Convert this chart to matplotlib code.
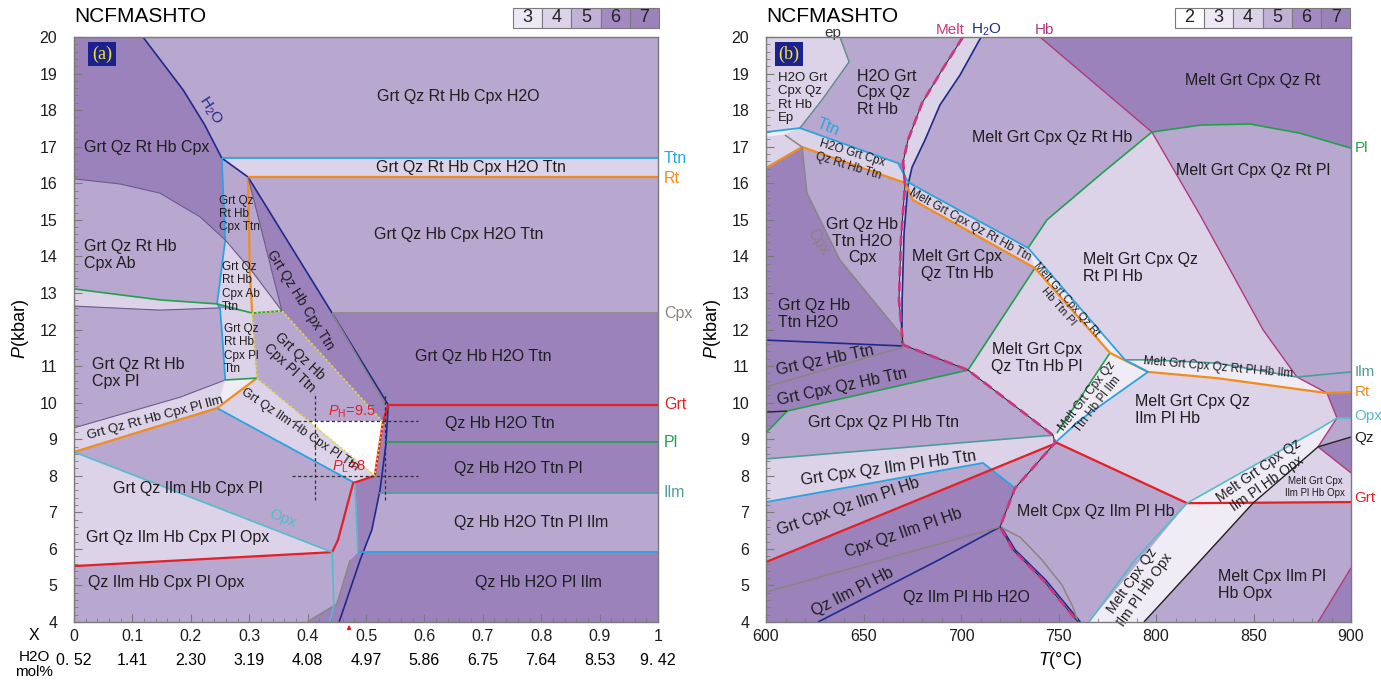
import matplotlib
matplotlib.use("Agg")
import matplotlib.pyplot as plt
import matplotlib.transforms as mtransforms
from matplotlib.patches import Polygon, Rectangle
from matplotlib.ticker import MultipleLocator

plt.rcParams.update({
    "font.family": ["Liberation Sans", "DejaVu Sans"],
    "mathtext.fontset": "custom",
    "mathtext.rm": "Liberation Sans",
    "mathtext.it": "Liberation Sans:italic",
    "font.size": 11.5,
})

# ---------------------------------------------------------------------------
# shading by field variance
# ---------------------------------------------------------------------------
SHADE = {"dark": "#9b82ba", "mid": "#b8a7ce", "light": "#dcd3e8", "pale": "#f0ecf5"}
VARIANCE_A = [3, 4, 5, 6, 7]
VARIANCE_B = [2, 3, 4, 5, 6, 7]
VARIANCE_COLOR = {2: "#ffffff", 3: "#ede8f4", 4: "#dcd3e8", 5: "#c1b1d7",
                  6: "#a38ac3", 7: "#9b82ba"}

PHASE_STYLE = {
    "H2O": ("#1f2a8c", 1.2), "Ttn": ("#29a4e2", 1.3), "Rt": ("#f28c1c", 1.6),
    "Cpx": ("#8a8580", 1.1), "Grt": ("#e61e25", 1.6), "Pl": ("#22a04e", 1.2),
    "Ilm": ("#4f9c9a", 1.2), "Opx": ("#55bccb", 1.2), "Ab": ("#6a5a8c", 0.8),
    "Qz": ("#222222", 1.0), "Hb": ("#b2387c", 1.0), "Ep": ("#5e8c8c", 1.0),
}
MELT_COLOR = "#c8377f"

# ---------------------------------------------------------------------------
# (a) P-X section, X = 0..1 (H2O 0.52..9.42 mol%)
# ---------------------------------------------------------------------------
X_TICKS = [0, 0.1, 0.2, 0.3, 0.4, 0.5, 0.6, 0.7, 0.8, 0.9, 1]
X_TICKLABELS = ["0", "0.1", "0.2", "0.3", "0.4", "0.5", "0.6", "0.7", "0.8", "0.9", "1"]
H2O_MOL = ["0. 52", "1.41", "2.30", "3.19", "4.08", "4.97", "5.86", "6.75", "7.64", "8.53", "9. 42"]
X_SAMPLE = 0.471

P_HIGH = 9.5
P_LOW = 8.0
CROSS_X = [0.413, 0.533]

A_FIELDS = [
    ("Grt Qz Rt Hb Cpx H2O", "mid", [(0.118, 20), (1, 20), (1, 16.69), (0.253, 16.69), (0.224, 17.59), (0.187, 18.55)]),
    ("Grt Qz Rt Hb Cpx H2O Ttn", "light", [(0.253, 16.69), (1, 16.69), (1, 16.17), (0.298, 16.17)]),
    ("Grt Qz Hb Cpx H2O Ttn", "mid", [(0.298, 16.17), (1, 16.17), (1, 12.45), (0.442, 12.45)]),
    ("Grt Qz Rt Hb Cpx Ab", "mid", [(0, 16.12), (0.079, 15.98), (0.147, 15.73), (0.216, 15.08), (0.259, 14.45),
                                    (0.245, 12.70), (0.147, 12.81), (0, 13.11)]),
    ("Grt Qz Rt Hb Cpx Ab Pl", "light", [(0, 13.11), (0.147, 12.81), (0.245, 12.70), (0.250, 12.59), (0.147, 12.53), (0, 12.64)]),
    ("Grt Qz Rt Hb Cpx Pl", "mid", [(0, 12.64), (0.147, 12.53), (0.250, 12.59), (0.255, 11.58), (0.259, 10.62),
                                    (0.182, 10.15), (0, 9.31)]),
    ("Grt Qz Rt Hb Cpx Pl Ilm", "light", [(0, 9.31), (0.182, 10.15), (0.259, 10.62), (0.245, 9.85), (0, 8.65)]),
    ("Grt Qz Rt Hb Cpx Pl Ilm Ttn", "pale", [(0.259, 10.62), (0.313, 10.67), (0.245, 9.85)]),
    ("Grt Qz Rt Hb Cpx Ttn", "mid", [(0.253, 16.69), (0.298, 16.17), (0.301, 13.63), (0.259, 14.45)]),
    ("Grt Qz Rt Hb Cpx Ab Ttn", "light", [(0.259, 14.45), (0.301, 13.63), (0.305, 12.45), (0.245, 12.70)]),
    ("Grt Qz Hb Cpx Ab Ttn", "mid", [(0.298, 16.17), (0.356, 12.51), (0.301, 13.63)]),
    ("Grt Qz Hb Cpx Pl Ab Ttn", "light", [(0.301, 13.63), (0.356, 12.51), (0.305, 12.45)]),
    ("Grt Qz Rt Hb Cpx Pl Ttn", "light", [(0.250, 12.59), (0.305, 12.45), (0.313, 10.67), (0.259, 10.62), (0.255, 11.58)]),
    ("Grt Qz Ilm Hb Cpx Pl Ttn", "light", [(0.245, 9.85), (0.313, 10.67), (0.515, 8.0), (0.481, 7.80)]),
    ("Grt Qz Ilm Hb Cpx Pl", "mid", [(0, 8.65), (0.245, 9.85), (0.481, 7.80), (0.478, 7.80), (0.452, 6.24), (0.442, 5.91)]),
    ("Grt Qz Ilm Hb Cpx Pl Opx", "light", [(0, 8.65), (0.442, 5.91), (0, 5.53)]),
    ("Qz Ilm Hb Cpx Pl Opx", "mid", [(0, 5.53), (0.442, 5.91), (0.445, 4.46), (0.399, 4.0), (0, 4.0)]),
    ("Qz Ilm Hb Cpx Pl", "mid", [(0.478, 7.80), (0.481, 7.80), (0.486, 5.91), (0.473, 5.70), (0.450, 4.49),
                                 (0.445, 4.46), (0.442, 5.91), (0.452, 6.24)]),
    ("Qz Hb H2O Ttn Pl Ilm", "mid", [(0.523, 7.53), (1, 7.53), (1, 5.91), (0.495, 5.91), (0.510, 6.52)]),
]
# peak assemblage Grt Qz Hb Cpx Pl Ttn
PEAK_FIELD = [(0.305, 12.45), (0.356, 12.51), (0.529, 9.47), (0.515, 8.0), (0.313, 10.67)]

A_LINES = [
    ("H2O", [(0.118, 20), (0.187, 18.55), (0.224, 17.59), (0.253, 16.69), (0.298, 16.17), (0.442, 12.45),
             (0.538, 9.94), (0.534, 8.84), (0.524, 7.61), (0.510, 6.52), (0.490, 5.70), (0.454, 4.0)]),
    ("Ttn", [(0.253, 16.69), (1, 16.69)]),
    ("Ttn", [(0.253, 16.69), (0.259, 14.45), (0.245, 12.70), (0.250, 12.59), (0.255, 11.58), (0.259, 10.62)]),
    ("Ttn", [(0.245, 9.85), (0.481, 7.80)]),
    ("Ttn", [(0.486, 5.91), (1, 5.91)]),
    ("Rt", [(0.298, 16.17), (1, 16.17)]),
    ("Rt", [(0.298, 16.17), (0.301, 13.63), (0.305, 12.45)]),
    ("Rt", [(0.313, 10.67), (0.245, 9.85), (0, 8.65)]),
    ("Cpx", [(0.442, 12.45), (1, 12.45)]),
    ("Cpx", [(0.442, 12.45), (0.533, 9.94)]),
    ("Cpx", [(0.473, 5.70), (0.450, 4.49), (0.399, 4.0)]),
    ("Grt", [(0.538, 9.94), (1, 9.94)]),
    ("Grt", [(0, 5.53), (0.442, 5.91), (0.452, 6.24), (0.478, 7.80), (0.515, 8.0), (0.529, 9.47), (0.538, 9.94)]),
    ("Pl", [(0.534, 8.92), (1, 8.92)]),
    ("Pl", [(0, 13.11), (0.147, 12.81), (0.245, 12.70), (0.305, 12.45), (0.356, 12.51)]),
    ("Pl", [(0.259, 10.62), (0.313, 10.67)]),
    ("Ilm", [(0.523, 7.53), (1, 7.53)]),
    ("Opx", [(0, 8.65), (0.442, 5.91), (0.445, 4.46), (0.438, 4.0)]),
    ("Opx", [(0.481, 7.80), (0.486, 5.91)]),
    ("Ab", [(0, 16.12), (0.079, 15.98), (0.147, 15.73), (0.216, 15.08), (0.259, 14.45), (0.307, 13.55), (0.356, 12.51)]),
    ("Ab", [(0, 12.64), (0.147, 12.53), (0.250, 12.59)]),
    ("Ab", [(0, 9.31), (0.182, 10.15), (0.259, 10.62)]),
    ("Ab", [(0.298, 16.17), (0.356, 12.51)]),
]

A_LABELS = [
    ("Grt Qz Rt Hb Cpx H2O", 0.658, 18.36, 11.5, 0, "center"),
    ("Grt Qz Rt Hb Cpx", 0.125, 16.99, 11.5, 0, "center"),
    ("Grt Qz Rt Hb Cpx H2O Ttn", 0.680, 16.42, 11.5, 0, "center"),
    ("Grt Qz Hb Cpx H2O Ttn", 0.659, 14.61, 11.5, 0, "center"),
    ("Grt Qz Rt Hb\nCpx Ab", 0.017, 14.04, 11.5, 0, "left"),
    ("Grt Qz\nRt Hb\nCpx Ttn", 0.248, 15.16, 8.5, 0, "left"),
    ("Grt Qz\nRt Hb\nCpx Ab\nTtn", 0.253, 13.16, 8.5, 0, "left"),
    ("Grt Qz Hb Cpx Ttn", 0.387, 12.81, 10, -58, "center"),
    ("Grt Qz Hb H2O Ttn", 0.700, 11.25, 11.5, 0, "center"),
    ("Grt Qz Rt Hb\nCpx Pl", 0.031, 10.81, 11.5, 0, "left"),
    ("Grt Qz\nRt Hb\nCpx Pl\nTtn", 0.257, 11.47, 8.5, 0, "left"),
    ("Grt Qz Hb\nCpx Pl Ttn", 0.378, 11.11, 10, -43, "center"),
    ("Grt Qz Rt Hb Cpx Pl Ilm", 0.139, 9.58, 9.5, 15, "center"),
    ("Grt Qz Ilm Hb Cpx Pl Ttn", 0.387, 9.25, 9, -34, "center"),
    ("Qz Hb H2O Ttn", 0.729, 9.42, 11.5, 0, "center"),
    ("Grt Qz Ilm Hb Cpx Pl", 0.195, 7.66, 11.5, 0, "center"),
    ("Qz Hb H2O Ttn Pl", 0.760, 8.21, 11.5, 0, "center"),
    ("Qz Hb H2O Ttn Pl Ilm", 0.783, 6.71, 11.5, 0, "center"),
    ("Grt Qz Ilm Hb Cpx Pl Opx", 0.178, 6.32, 11.5, 0, "center"),
    ("Qz Ilm Hb Cpx Pl Opx", 0.158, 5.07, 11.5, 0, "center"),
    ("Qz Hb H2O Pl Ilm", 0.795, 5.09, 11.5, 0, "center"),
]
A_LINE_LABELS = [
    ("H$_2$O", "H2O", 0.233, 18.0, -57),
    ("Opx", "Opx", 0.358, 6.82, -21),
]
A_EDGE_LABELS = [("Ttn", 16.69), ("Rt", 16.14), ("Cpx", 12.45), ("Grt", 9.94), ("Pl", 8.92), ("Ilm", 7.53)]

# ---------------------------------------------------------------------------
# (b) P-T section
# ---------------------------------------------------------------------------
B_FIELDS = [
    ("H2O Grt Cpx Qz Rt Hb Ep", "light", [(600, 20), (637.9, 20), (642.6, 19.32), (628.7, 18.28), (617.4, 17.51), (600, 17.40)]),
    ("H2O Grt Cpx Qz Rt Hb Ep Ttn", "pale", [(600, 17.40), (617.4, 17.51), (609.7, 17.32), (600, 17.26)]),
    ("H2O Grt Qz Rt Hb Ttn", "light", [(600, 17.26), (609.7, 17.32), (618.5, 16.99), (600, 16.42)]),
    ("H2O Grt Cpx Qz Rt Hb Ttn", "light", [(617.4, 17.51), (667.7, 16.55), (672.8, 16.03), (671.3, 16.01),
                                           (618.5, 16.99), (609.7, 17.32)]),
    ("H2O Grt Cpx Qz Rt Hb", "mid", [(637.9, 20), (701.0, 20), (690.3, 19.10), (680.0, 18.19), (672.8, 17.18),
                                      (670.3, 16.58), (667.7, 16.55), (617.4, 17.51), (628.7, 18.28), (642.6, 19.32)]),
    ("Melt H2O Grt Cpx Qz Rt Hb", "light", [(701.0, 20), (690.3, 19.10), (680.0, 18.19), (672.8, 17.18), (670.3, 16.58),
                                            (671.3, 15.95), (669.2, 14.45), (668.2, 12.81), (670.3, 11.58), (669.7, 11.63),
                                            (669.8, 12.81), (670.8, 14.64), (672.8, 15.95), (674.9, 16.44), (681.5, 17.18),
                                            (689.2, 18.14), (699.5, 18.96), (710.3, 20)]),
    ("Grt Qz Hb Ttn H2O Cpx", "mid", [(618.5, 16.99), (671.3, 16.01), (671.3, 15.95), (669.2, 14.45), (668.2, 12.81),
                                      (670.3, 11.58), (668.7, 11.90), (637.9, 13.90), (621.0, 15.73)]),
    ("Melt Grt Cpx Qz Rt Hb", "mid", [(710.3, 20), (740.5, 20), (797.9, 17.40), (771.3, 16.23), (744.1, 15.00),
                                      (734.4, 14.23), (672.8, 16.03), (674.9, 16.44), (681.5, 17.18), (689.2, 18.14),
                                      (699.5, 18.96)]),
    ("Melt Grt Cpx Qz Rt Pl", "mid", [(797.9, 17.40), (822.6, 17.59), (848.2, 17.62), (873.8, 17.37), (900, 16.96),
                                      (900, 10.84), (872.3, 10.70), (854.9, 11.99), (822.6, 15.13)]),
    ("Melt Grt Cpx Qz Rt Pl Hb", "light", [(797.9, 17.40), (822.6, 15.13), (854.9, 11.99), (872.3, 10.70), (831.3, 11.08),
                                           (796.9, 11.17), (784.1, 11.17), (734.4, 14.23), (744.1, 15.00), (771.3, 16.23)]),
    ("Melt Grt Cpx Qz Rt Hb Ttn", "light", [(672.8, 16.03), (734.4, 14.23), (737.9, 13.68), (675.4, 15.54), (671.3, 16.01)]),
    ("Melt Grt Cpx Qz Rt Hb Ttn Pl", "pale", [(734.4, 14.23), (784.1, 11.17), (795.9, 10.84), (776.4, 11.36), (737.9, 13.68)]),
    ("Melt Grt Cpx Qz Rt Pl Hb Ilm", "pale", [(784.1, 11.17), (796.9, 11.17), (831.3, 11.08), (872.3, 10.70), (887.7, 10.26),
                                              (831.3, 10.67), (795.9, 10.84)]),
    ("Melt Grt Cpx Qz Ttn Hb Pl Ilm", "pale", [(776.4, 11.36), (795.9, 10.84), (761.0, 9.52), (748.2, 8.90), (747.2, 9.11),
                                               (749.2, 9.17)]),
    ("Melt Grt Cpx Qz Ttn Hb Pl", "light", [(737.9, 13.68), (776.4, 11.36), (749.2, 9.17), (747.2, 9.11), (703.6, 10.89)]),
    ("Melt Grt Cpx Qz Ttn Hb", "mid", [(675.4, 15.54), (737.9, 13.68), (703.6, 10.89), (670.3, 11.58), (669.8, 12.81),
                                       (670.8, 14.64), (672.8, 15.95)]),
    ("Melt Grt Cpx Qz Ilm Pl Hb", "light", [(748.2, 8.90), (761.0, 9.52), (795.9, 10.84), (831.3, 10.67), (887.7, 10.26),
                                            (892.8, 9.58), (882.6, 9.25), (815.9, 7.25), (749.2, 8.90)]),
    ("Melt Grt Cpx Qz Pl Hb Ilm", "mid", [(872.3, 10.70), (900, 10.84), (900, 10.29), (887.7, 10.26)]),
    ("Melt Grt Cpx Qz Pl Ilm Opx", "mid", [(892.8, 9.58), (900, 9.58), (900, 9.06), (883.1, 8.79)]),
    ("Melt Grt Cpx Ilm Pl Hb Opx", "light", [(849.7, 7.25), (883.1, 8.79), (900, 8.08), (900, 7.28)]),
    ("Melt Grt Cpx Qz Ilm Pl Hb Opx", "pale", [(815.9, 7.25), (882.6, 9.25), (892.8, 9.58), (883.1, 8.79), (849.7, 7.25)]),
    ("Melt Cpx Qz Ilm Pl Hb Opx", "pale", [(815.9, 7.25), (849.7, 7.25), (823.1, 5.70), (793.8, 4.0), (765.6, 4.0), (789.2, 5.70)]),
    ("Melt Cpx Ilm Pl Hb Opx", "mid", [(849.7, 7.25), (900, 7.28), (900, 5.48), (883.1, 4.0), (793.8, 4.0), (823.1, 5.70)]),
    ("Melt Cpx Qz Ilm Pl Hb", "mid", [(727.7, 7.66), (749.2, 8.90), (815.9, 7.25), (765.6, 4.0), (760, 4.0), (757.4, 4.41),
                                      (751.8, 5.01), (741.5, 5.70), (730.3, 6.32), (720, 6.60)]),
    ("Melt Cpx Qz Ilm Pl Hb H2O", "mid", [(720, 6.60), (730.3, 6.32), (741.5, 5.70), (751.8, 5.01), (757.4, 4.41), (760, 4.0),
                                          (742.1, 5.15), (726.7, 5.97)]),
    ("Melt Cpx Qz Ilm Pl Hb Ttn", "mid", [(715.7, 8.17), (749.2, 8.90), (727.7, 7.66)]),
    ("Grt Cpx Qz Ilm Pl Hb Ttn", "light", [(600, 8.46), (747.2, 9.11), (749.2, 8.90), (715.7, 8.17), (711.3, 8.35), (600, 7.28)]),
    ("Grt Cpx Qz Ilm Pl Hb", "mid", [(600, 7.28), (711.3, 8.35), (715.7, 8.17), (600, 5.64)]),
    ("Grt Cpx Qz Pl Hb Ttn", "mid", [(600, 8.46), (747.2, 9.11), (703.6, 10.89), (610.8, 9.77), (600, 9.17)]),
]

B_MELT = [(701.0, 20), (690.3, 19.10), (680.0, 18.19), (672.8, 17.18), (670.3, 16.58), (671.3, 15.95), (669.2, 14.45),
          (668.2, 12.81), (670.3, 11.58), (703.6, 10.89), (747.2, 9.11), (748.2, 8.90), (727.7, 7.66), (720, 6.60),
          (726.7, 5.97), (742.1, 5.15), (760, 4.0)]

B_LINES = [
    ("H2O", [(710.3, 20), (699.5, 18.96), (689.2, 18.14), (681.5, 17.18), (674.9, 16.44), (672.8, 15.95),
             (670.8, 14.64), (669.8, 12.81), (669.7, 11.63)]),
    ("H2O", [(600, 11.71), (669.7, 11.55)]),
    ("H2O", [(626.7, 4.0), (688.7, 5.70), (720, 6.60)]),
    ("H2O", [(720.6, 6.60), (727.8, 5.97), (743.4, 5.15), (761.2, 4.0)]),
    ("Hb", [(740.5, 20), (797.9, 17.40), (822.6, 15.13), (854.9, 11.99), (872.3, 10.70), (887.7, 10.26),
            (892.8, 9.58), (883.1, 8.79), (900, 8.08)]),
    ("Hb", [(883.1, 4.0), (900, 5.48)]),
    ("Pl", [(797.9, 17.40), (822.6, 17.59), (848.2, 17.62), (873.8, 17.37), (900, 16.96)]),
    ("Pl", [(797.9, 17.40), (771.3, 16.23), (744.1, 15.00), (734.4, 14.23)]),
    ("Pl", [(737.9, 13.68), (703.6, 10.89)]),
    ("Pl", [(776.4, 11.36), (749.2, 9.17)]),
    ("Pl", [(600, 9.17), (610.8, 9.77), (703.6, 10.89)]),
    ("Ilm", [(784.1, 11.17), (796.9, 11.17), (831.3, 11.08), (872.3, 10.70), (900, 10.84)]),
    ("Ilm", [(600, 8.46), (747.2, 9.11)]),
    ("Rt", [(600, 16.42), (618.5, 16.99), (671.3, 16.01), (675.4, 15.54), (737.9, 13.68), (776.4, 11.36),
            (795.9, 10.84), (831.3, 10.67), (887.7, 10.26), (900, 10.29)]),
    ("Ttn", [(600, 17.40), (617.4, 17.51), (667.7, 16.55), (672.8, 16.03), (734.4, 14.23), (784.1, 11.17),
             (795.9, 10.84), (761.0, 9.52), (748.2, 8.90)]),
    ("Ttn", [(600, 7.28), (711.3, 8.35), (727.7, 7.66)]),
    ("Cpx", [(609.7, 17.32), (618.5, 16.99), (621.0, 15.73), (637.9, 13.90), (668.7, 11.90), (670.3, 11.58)]),
    ("Cpx", [(600, 10.43), (670.3, 11.52)]),
    ("Cpx", [(600, 4.82), (720, 6.60)]),
    ("Cpx", [(720, 6.60), (730.3, 6.32), (741.5, 5.70), (751.8, 5.01), (757.4, 4.41), (760, 4.0)]),
    ("Ep", [(637.9, 20), (642.6, 19.32), (628.7, 18.28), (617.4, 17.51)]),
    ("Grt", [(600, 5.64), (749.2, 8.90), (815.9, 7.25), (900, 7.28)]),
    ("Qz", [(793.8, 4.0), (823.1, 5.70), (849.7, 7.25), (883.1, 8.79), (900, 9.06)]),
    ("Qz", [(600, 9.74), (610.8, 9.77)]),
    ("Opx", [(765.6, 4.0), (789.2, 5.70), (815.9, 7.25), (882.6, 9.25), (892.8, 9.58), (900, 9.58)]),
]

B_LABELS = [
    ("H2O Grt\nCpx Qz\nRt Hb\nEp", 606.2, 18.33, 9.5, 0, "left"),
    ("H2O Grt\nCpx Qz\nRt Hb", 646.7, 18.47, 11.5, 0, "left"),
    ("H2O Grt Cpx\nQz Rt Hb Ttn", 643.1, 16.64, 8.5, -17, "center"),
    ("Grt Qz Hb\nTtn H2O\nCpx", 649.2, 14.42, 11.5, 0, "center"),
    ("Grt Qz Hb\nTtn H2O", 606.2, 12.42, 11.5, 0, "left"),
    ("Melt Grt Cpx Qz Rt Hb", 746.7, 17.26, 11.5, 0, "center"),
    ("Melt Grt Cpx Qz Rt", 849.7, 18.82, 11.5, 0, "center"),
    ("Melt Grt Cpx Qz Rt Pl", 849.7, 16.36, 11.5, 0, "center"),
    ("Melt Grt Cpx Qz Rt Hb Ttn", 704.6, 14.86, 8.5, -29, "center"),
    ("Melt Grt Cpx\nQz Ttn Hb", 698.0, 13.76, 11.5, 0, "center"),
    ("Melt Grt Cpx Qz\nRt Pl Hb", 762.6, 13.68, 11.5, 0, "left"),
    ("Melt Grt Cpx Qz Rt\nHb Ttn Pl", 752.3, 12.72, 8, -49, "center"),
    ("Melt Grt Cpx\nQz Ttn Hb Pl", 739.0, 11.22, 11.5, 0, "center"),
    ("Melt Grt Cpx Qz Rt Pl Hb Ilm", 831.8, 10.95, 8.5, -5, "center"),
    ("Melt Grt Cpx Qz\nTtn Hb Pl Ilm", 767.2, 10.07, 8.5, 52, "center"),
    ("Melt Grt Cpx Qz\nIlm Pl Hb", 789.2, 9.80, 11.5, 0, "left"),
    ("Grt Qz Hb Ttn", 630.3, 11.15, 11.5, 12, "center"),
    ("Grt Cpx Qz Hb Ttn", 639.0, 10.43, 11.5, 12, "center"),
    ("Grt Cpx Qz Pl Hb Ttn", 660.0, 9.47, 11.5, 0, "center"),
    ("Grt Cpx Qz Ilm Pl Hb Ttn", 662.6, 8.21, 11.5, 8, "center"),
    ("Grt Cpx Qz Ilm Pl Hb", 642.0, 7.15, 11.5, 19, "center"),
    ("Cpx Qz Ilm Pl Hb", 670.3, 6.43, 11.5, 19, "center"),
    ("Qz Ilm Pl Hb", 644.6, 4.82, 11.5, 27, "center"),
    ("Qz Ilm Pl Hb H2O", 703.0, 4.68, 11.5, 0, "center"),
    ("Melt Cpx Qz Ilm Pl Hb", 769.2, 7.01, 11.5, 0, "center"),
    ("Melt Grt Cpx Qz\nIlm Pl Hb Opx", 854.9, 7.97, 10, 35, "center"),
    ("Melt Grt Cpx\nIlm Pl Hb Opx", 881.5, 7.69, 7, 0, "center"),
    ("Melt Cpx Qz\nIlm Pl Hb Opx", 790.8, 5.01, 10, 55, "center"),
    ("Melt Cpx Ilm Pl\nHb Opx", 831.8, 5.01, 11.5, 0, "left"),
]
B_LINE_LABELS = [
    ("Ttn", "Ttn", 631.8, 17.54, -22),
    ("Cpx", "Cpx", 626.7, 14.39, -57),
]
B_TOP_LABELS = [("Melt", MELT_COLOR, 694.4, 20.19), ("H$_2$O", PHASE_STYLE["H2O"][0], 712.8, 20.19),
                ("Hb", PHASE_STYLE["Hb"][0], 742.6, 20.19), ("ep", "#333333", 634.4, 20.12)]
B_EDGE_LABELS = [("Pl", 16.96), ("Ilm", 10.84), ("Rt", 10.29), ("Opx", 9.63), ("Qz", 9.03), ("Grt", 7.39)]


# ---------------------------------------------------------------------------
def add_fields(ax, fields):
    for _, shade, pts in fields:
        c = SHADE[shade]
        ax.add_patch(Polygon(pts, closed=True, fc=c, ec=c, lw=0.4, zorder=1))


def add_lines(ax, lines):
    for phase, pts in lines:
        c, lw = PHASE_STYLE[phase]
        xs, ys = zip(*pts)
        ax.plot(xs, ys, color=c, lw=lw, zorder=3, solid_joinstyle="round", solid_capstyle="butt")


def add_labels(ax, labels):
    for txt, x, y, size, rot, ha in labels:
        ax.text(x, y, txt, fontsize=size, rotation=rot, ha=ha, va="center",
                rotation_mode="anchor", multialignment=ha if ha != "center" else "center",
                color="#1e1e1e", linespacing=1.15, zorder=6)


def style_axes(ax, xlim, xmajor, xminor):
    ax.set_xlim(*xlim)
    ax.set_ylim(4, 20)
    ax.set_facecolor(SHADE["dark"])
    ax.xaxis.set_major_locator(MultipleLocator(xmajor))
    ax.xaxis.set_minor_locator(MultipleLocator(xminor))
    ax.yaxis.set_major_locator(MultipleLocator(1))
    ax.yaxis.set_minor_locator(MultipleLocator(0.2))
    ax.tick_params(which="both", direction="in", top=False, right=False, color="#7a7a7a")
    ax.tick_params(which="major", length=6, width=0.8, labelsize=11.5, labelcolor="#1e1e1e")
    ax.tick_params(which="minor", length=3, width=0.6)
    ax.tick_params(axis="y", pad=12)
    ax.tick_params(axis="x", pad=5)
    for s in ax.spines.values():
        s.set_color("#7a7a7a")
        s.set_linewidth(1.0)
        s.set_zorder(7)
    ax.text(-0.092, 0.5, "$P$(kbar)", transform=ax.transAxes, rotation=90,
            ha="center", va="center", fontsize=13)


def add_legend(fig, x0, levels):
    w, h, y0 = 29.2 / 1381, 20 / 682, 1 - 28 / 682
    for i, v in enumerate(levels):
        fig.add_artist(Rectangle((x0 + i * w, y0), w, h, transform=fig.transFigure,
                                 fc=VARIANCE_COLOR[v], ec="#7a7a7a", lw=0.8))
        fig.text(x0 + (i + 0.5) * w, y0 + h / 2, str(v), ha="center", va="center", fontsize=13, color="#222")


def panel_tag(ax, s, x):
    ax.text(x, 0.971, s, transform=ax.transAxes, ha="center", va="center", color="#f2e52a",
            fontsize=13, family="Liberation Serif", zorder=8,
            bbox=dict(boxstyle="square,pad=0.2", fc="#1c2190", ec="none"))


fig = plt.figure(figsize=(13.81, 6.82), dpi=100)
ax_a = fig.add_axes([74 / 1381, 60 / 682, 584 / 1381, 585 / 682])
ax_b = fig.add_axes([766 / 1381, 60 / 682, 585 / 1381, 585 / 682])

# ----------------------------- panel (a) -----------------------------------
style_axes(ax_a, (0, 1), 0.1, 0.02)
add_fields(ax_a, A_FIELDS)

peak = Polygon(PEAK_FIELD, closed=True, fc=SHADE["mid"], ec=SHADE["mid"], lw=0.4, zorder=1)
ax_a.add_patch(peak)
band = Rectangle((0, P_LOW), 1, P_HIGH - P_LOW, fc="white", ec="none", zorder=1.5)
ax_a.add_patch(band)
band.set_clip_path(peak)

add_lines(ax_a, A_LINES)
px, py = zip(*(PEAK_FIELD + PEAK_FIELD[:1]))
ax_a.plot(px, py, color="#e9df2a", lw=1.3, ls=(0, (1, 1.4)), zorder=4)

dash = dict(color="#303030", lw=0.9, ls=(0, (2.5, 2)), zorder=5)
for p in (P_HIGH, P_LOW):
    ax_a.plot([0.373, 0.589], [p, p], **dash)
for xc in CROSS_X:
    ax_a.plot([xc, xc], [7.34, 10.26], **dash)
ax_a.text(0.476, P_HIGH + 0.02, f"$P_{{\\rm H}}$={P_HIGH:g}", color="#e61e25", fontsize=10.5,
          ha="center", va="bottom", zorder=6)
ax_a.text(0.470, P_LOW + 0.02, f"$P_{{\\rm L}}$={P_LOW:g}", color="#e61e25", fontsize=10.5,
          ha="center", va="bottom", zorder=6)

add_labels(ax_a, A_LABELS)
for txt, ph, x, y, rot in A_LINE_LABELS:
    ax_a.text(x, y, txt, color=PHASE_STYLE[ph][0], fontsize=11, rotation=rot,
              ha="center", va="center", rotation_mode="anchor", zorder=6)
for ph, y in A_EDGE_LABELS:
    ax_a.text(1.010, y, ph, color=PHASE_STYLE[ph][0], fontsize=11.5, ha="left", va="center")

ax_a.set_xticks(X_TICKS)
ax_a.set_xticklabels(X_TICKLABELS)
trans_a = mtransforms.blended_transform_factory(ax_a.transData, ax_a.transAxes)
for xv, lab in zip(X_TICKS, H2O_MOL):
    ax_a.text(xv, -0.066, lab, transform=trans_a, ha="center", va="center", fontsize=11.5)
ax_a.annotate("", xy=(X_SAMPLE, 4.0), xytext=(X_SAMPLE, 3.72), annotation_clip=False,
              arrowprops=dict(arrowstyle="-|>", color="#e61e25", lw=0.9, mutation_scale=6))
fig.text(34 / 1381, 1 - 635 / 682, "X", ha="center", va="center", fontsize=11.5)
fig.text(34 / 1381, 1 - 657 / 682, "H2O", ha="center", va="center", fontsize=11)
fig.text(34 / 1381, 1 - 672 / 682, "mol%", ha="center", va="center", fontsize=11)
panel_tag(ax_a, "(a)", 0.048)

# ----------------------------- panel (b) -----------------------------------
style_axes(ax_b, (600, 900), 50, 10)
add_fields(ax_b, B_FIELDS)
add_lines(ax_b, B_LINES)
mx, my = zip(*B_MELT)
ax_b.plot(mx, my, color="#222222", lw=0.7, zorder=3)
ax_b.plot(mx, my, color=MELT_COLOR, lw=2.0, ls=(0, (3.5, 2)), zorder=3.5)
add_labels(ax_b, B_LABELS)
for txt, ph, x, y, rot in B_LINE_LABELS:
    ax_b.text(x, y, txt, color=PHASE_STYLE[ph][0], fontsize=11.5, rotation=rot,
              ha="center", va="center", rotation_mode="anchor", zorder=6)
for txt, c, x, y in B_TOP_LABELS:
    ax_b.text(x, y, txt, color=c, fontsize=11, ha="center", va="center")
for ph, y in B_EDGE_LABELS:
    ax_b.text(901.8, y, ph, color=PHASE_STYLE[ph][0], fontsize=11, ha="left", va="center")
ax_b.text(0.503, -0.066, "$T$(°C)", transform=ax_b.transAxes, ha="center", va="center", fontsize=13)
panel_tag(ax_b, "(b)", 0.039)

# ----------------------------- header --------------------------------------
fig.text(74 / 1381, 1 - 17 / 682, "NCFMASHTO", ha="left", va="center", fontsize=15)
fig.text(766 / 1381, 1 - 17 / 682, "NCFMASHTO", ha="left", va="center", fontsize=15)
add_legend(fig, 513 / 1381, VARIANCE_A)
add_legend(fig, 1175 / 1381, VARIANCE_B)

fig.savefig("out.png", dpi=100)
